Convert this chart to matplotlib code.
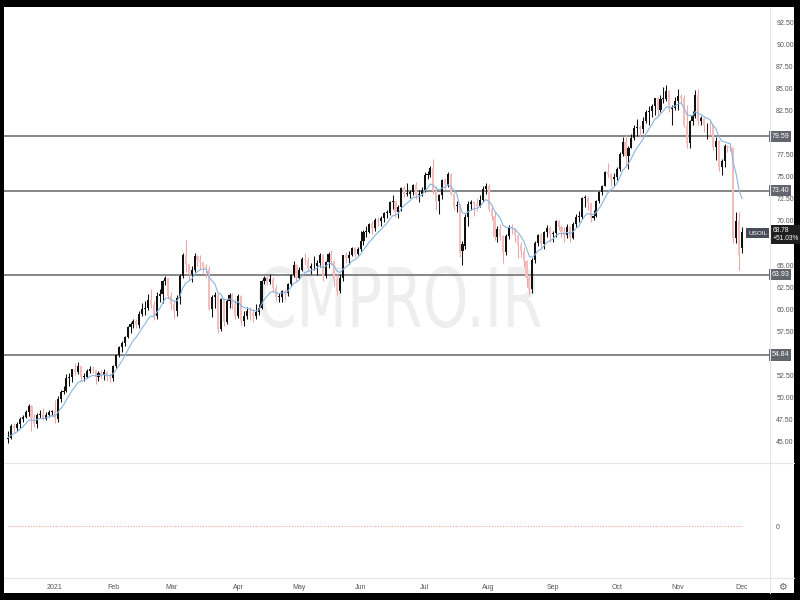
import numpy as np
import pandas as pd
import matplotlib
matplotlib.use("Agg")
import matplotlib.pyplot as plt
from matplotlib.lines import Line2D
from matplotlib.patches import Rectangle, PathPatch
from matplotlib.textpath import TextPath
from matplotlib.font_manager import FontProperties
from matplotlib.transforms import Affine2D

plt.rcParams["font.family"] = ["Liberation Sans Narrow", "Liberation Sans", "DejaVu Sans"]

# daily candles, 9 Dec 2020 -> 1 Dec 2021 (USOIL)
start_day = "2020-12-09"
end_day = "2021-12-01"
closed_days = ["2020-12-25", "2021-01-01", "2021-04-02"]

opens = [
    45.3, 45.5, 46.8, 46.6, 47.0, 47.6, 47.8, 48.4, 49.1, 47.7, 47.0, 48.1, 48.2, 47.6, 48.0, 48.4,
    48.5, 47.6, 49.9, 50.6, 50.8, 52.2, 52.3, 53.2, 52.9, 53.6, 52.4, 52.4, 53.0, 53.2, 53.1, 52.3, 52.8, 52.6, 52.9, 52.3,
    52.2, 53.6, 54.8, 55.7, 56.2, 56.9, 58.0, 58.4, 58.7, 58.2, 59.5, 60.0, 60.1, 61.1, 60.5, 59.2, 61.5, 61.7, 63.2, 63.5,
    61.5, 60.6, 59.8, 61.3, 63.8, 66.1, 65.1, 64.0, 64.4, 66.0, 65.6, 65.4, 64.8, 64.6, 60.0, 61.4, 61.6, 57.8, 61.2, 58.6, 61.0, 61.6, 60.6,
    59.2, 61.5, 58.7, 59.3, 59.8, 59.6, 59.3, 59.7, 60.2, 63.2, 63.5, 63.1, 63.4, 62.4, 61.4, 61.4, 62.1, 61.9, 62.9, 63.9, 65.0,
    63.6, 64.5, 65.7, 65.6, 64.7, 64.9, 64.9, 65.3, 66.1, 63.8, 65.4, 66.3, 65.5, 63.4, 62.1, 63.6, 66.1, 65.8, 66.2, 66.9, 66.3,
    66.8, 67.7, 68.8, 68.8, 69.6, 69.2, 70.1, 70.0, 70.3, 70.9, 70.9, 72.1, 72.2, 71.0, 71.6, 73.7, 73.1, 73.1, 73.3, 74.1, 72.9, 73.0,
    73.5, 75.2, 75.2, 76.0, 73.4, 72.2, 72.9, 74.6, 74.1, 75.3, 73.1, 71.7, 71.8, 66.6, 67.2, 70.5, 71.9, 72.1, 71.9, 71.7, 72.4, 73.6,
    74.0, 71.3, 70.6, 68.2, 69.1, 68.3, 66.5, 68.3, 69.3, 69.1, 68.4, 67.3, 66.6, 65.5, 63.5, 62.3, 65.6, 67.5, 68.4, 67.4, 68.7, 69.2,
    68.5, 68.6, 70.0, 69.3, 68.8, 68.4, 69.3, 68.1, 69.7, 70.5, 70.5, 72.6, 72.6, 72.0, 70.3, 70.6, 72.2, 73.3, 74.0, 75.5, 75.3, 74.8,
    75.0, 75.9, 77.6, 78.9, 77.4, 78.3, 79.4, 80.5, 80.6, 80.4, 81.3, 82.3, 82.4, 83.0, 83.9, 82.5, 83.8, 83.8, 84.7, 82.7, 82.8,
    83.6, 84.1, 83.9, 80.9, 78.8, 81.3, 81.9, 84.2, 81.3, 81.6, 80.8, 80.9, 80.8, 78.4, 79.0, 76.1, 76.8, 78.5, 78.4, 78.3, 68.1, 70.0,
    66.9,
]
highs = [
    46.2, 47.0, 47.1, 47.3, 47.8, 48.1, 48.6, 49.3, 49.2, 48.2, 48.3, 48.6, 48.9, 48.4, 48.6, 48.6,
    49.8, 50.2, 50.9, 51.3, 52.7, 52.8, 53.3, 53.9, 54.0, 53.6, 52.8, 53.2, 53.6, 53.6, 53.1, 53.0, 53.1, 53.2, 53.0, 52.8,
    53.7, 55.0, 55.9, 56.4, 57.0, 58.1, 58.6, 58.9, 58.9, 59.8, 60.7, 60.9, 61.7, 62.3, 60.9, 62.0, 62.3, 63.3, 63.8, 63.6,
    62.0, 60.9, 61.6, 64.0, 66.4, 67.9, 65.3, 64.9, 66.4, 66.2, 66.2, 65.4, 65.1, 64.9, 61.6, 62.0, 61.9, 61.3, 61.3, 61.2, 61.9, 61.8, 61.2,
    61.7, 61.6, 59.8, 60.3, 60.3, 60.0, 60.6, 60.6, 63.3, 63.8, 63.8, 64.0, 63.7, 62.7, 61.9, 62.2, 62.3, 63.0, 64.0, 65.5, 65.1,
    64.8, 65.9, 66.4, 65.9, 65.3, 66.0, 65.6, 66.4, 66.3, 65.5, 66.5, 66.7, 65.6, 64.0, 64.0, 66.2, 66.5, 66.6, 67.0, 67.1, 67.0,
    68.9, 69.0, 69.4, 69.8, 70.0, 70.3, 70.5, 70.6, 71.0, 71.2, 72.3, 72.9, 72.3, 71.8, 73.8, 73.9, 74.3, 73.5, 74.2, 74.4, 73.5, 73.8,
    75.5, 75.7, 76.2, 77.0, 73.9, 73.0, 74.7, 74.9, 75.5, 75.4, 73.3, 72.3, 71.9, 67.7, 70.8, 72.2, 72.4, 72.3, 72.6, 72.9, 73.9, 74.3,
    74.2, 71.7, 71.0, 69.4, 69.6, 68.4, 68.5, 69.5, 69.6, 69.2, 68.4, 67.6, 67.0, 65.6, 64.0, 65.8, 67.7, 68.5, 68.6, 68.9, 69.5, 69.4,
    68.9, 70.1, 70.1, 69.5, 69.3, 69.6, 69.4, 69.9, 70.8, 71.1, 72.7, 72.9, 72.8, 72.0, 71.2, 72.4, 73.4, 74.1, 75.6, 76.6, 75.4, 75.4,
    76.1, 77.8, 79.5, 79.8, 78.5, 79.8, 80.8, 81.5, 80.8, 81.8, 82.6, 83.0, 83.2, 83.9, 84.0, 84.3, 85.2, 85.4, 84.8, 83.1, 84.0,
    84.9, 84.4, 84.2, 83.1, 81.4, 82.4, 84.8, 84.9, 81.9, 81.8, 81.1, 81.4, 80.9, 79.5, 79.2, 77.0, 78.7, 78.6, 78.6, 78.4, 71.0, 71.0,
    69.3,
]
lows = [
    44.9, 45.3, 46.0, 46.3, 46.6, 47.3, 47.7, 47.9, 46.2, 46.7, 46.6, 47.7, 47.5, 47.5, 47.8, 47.9,
    47.2, 47.3, 49.5, 50.4, 50.6, 51.3, 51.8, 52.6, 52.7, 51.9, 51.9, 52.2, 52.8, 52.8, 51.6, 51.9, 52.2, 52.0, 51.9, 51.8,
    51.9, 53.4, 54.6, 55.2, 55.9, 56.8, 57.3, 57.9, 57.9, 57.9, 59.3, 59.4, 59.9, 60.2, 58.8, 58.9, 60.8, 60.7, 62.8, 61.2,
    60.0, 59.0, 59.2, 60.6, 63.6, 64.2, 63.3, 63.1, 64.2, 64.9, 64.6, 64.1, 63.7, 59.9, 59.1, 60.2, 57.3, 57.6, 58.1, 58.4, 60.2, 60.0, 58.9,
    59.0, 58.2, 58.1, 58.9, 58.8, 58.6, 58.9, 59.4, 60.0, 62.9, 62.7, 62.9, 62.0, 60.9, 60.8, 60.8, 61.1, 61.5, 62.6, 63.7, 63.2,
    63.4, 64.3, 65.0, 64.3, 64.0, 64.4, 63.9, 64.8, 63.2, 63.6, 64.7, 65.0, 62.6, 61.6, 61.9, 63.2, 65.2, 65.1, 66.0, 65.9, 66.1,
    66.6, 67.3, 68.2, 68.6, 68.5, 68.9, 69.4, 69.4, 69.9, 70.3, 70.7, 71.3, 70.5, 70.3, 71.1, 72.7, 72.8, 72.6, 72.9, 72.5, 72.1, 72.8,
    73.3, 74.7, 75.0, 73.1, 71.2, 70.8, 72.5, 73.6, 73.8, 72.9, 71.2, 71.0, 65.9, 65.0, 66.8, 69.4, 71.2, 70.6, 71.1, 71.6, 72.2, 73.0,
    71.1, 70.1, 67.9, 67.6, 67.8, 65.2, 66.2, 68.0, 68.5, 67.6, 65.8, 65.9, 64.8, 62.5, 61.7, 61.9, 65.3, 67.2, 66.9, 66.8, 68.2, 67.6,
    67.6, 68.2, 69.0, 68.2, 67.6, 68.1, 67.6, 68.0, 69.3, 69.9, 70.2, 71.6, 71.2, 69.9, 70.1, 70.4, 72.0, 72.9, 73.9, 75.0, 73.9, 73.9,
    74.6, 75.6, 77.3, 76.1, 75.9, 78.2, 79.2, 79.6, 79.5, 79.9, 81.1, 80.9, 81.8, 82.0, 81.9, 82.3, 83.3, 83.6, 82.3, 80.9, 82.5,
    82.6, 83.3, 80.6, 78.3, 78.3, 80.9, 81.6, 80.9, 80.8, 80.1, 79.3, 79.6, 78.0, 76.9, 75.6, 75.2, 76.1, 77.8, 77.9, 67.5, 67.5, 64.4,
    66.4,
]
closes = [
    45.5, 46.8, 46.6, 47.0, 47.6, 47.8, 48.4, 49.1, 47.7, 47.0, 48.1, 48.2, 47.6, 48.0, 48.4, 48.5,
    47.6, 49.9, 50.6, 50.8, 52.2, 52.3, 53.2, 52.9, 53.6, 52.4, 52.4, 53.0, 53.2, 53.1, 52.3, 52.8, 52.6, 52.9, 52.3, 52.2,
    53.6, 54.8, 55.7, 56.2, 56.9, 58.0, 58.4, 58.7, 58.2, 59.5, 60.0, 60.1, 61.1, 60.5, 59.2, 61.5, 61.7, 63.2, 63.5, 61.5,
    60.6, 59.8, 61.3, 63.8, 66.1, 65.1, 64.0, 64.4, 66.0, 65.6, 65.4, 64.8, 64.6, 60.0, 61.4, 61.6, 57.8, 61.2, 58.6, 61.0, 61.6, 60.6, 59.2,
    61.5, 58.7, 59.3, 59.8, 59.6, 59.3, 59.7, 60.2, 63.2, 63.5, 63.1, 63.4, 62.4, 61.4, 61.4, 62.1, 61.9, 62.9, 63.9, 65.0, 63.6,
    64.5, 65.7, 65.6, 64.7, 64.9, 64.9, 65.3, 66.1, 63.8, 65.4, 66.3, 65.5, 63.4, 62.1, 63.6, 66.1, 65.8, 66.2, 66.9, 66.3, 66.8,
    67.7, 68.8, 68.8, 69.6, 69.2, 70.1, 70.0, 70.3, 70.9, 70.9, 72.1, 72.2, 71.0, 71.6, 73.7, 73.1, 73.1, 73.3, 74.1, 72.9, 73.0, 73.5,
    75.2, 75.2, 76.0, 73.4, 72.2, 72.9, 74.6, 74.1, 75.3, 73.1, 71.7, 71.8, 66.4, 67.4, 70.5, 71.9, 72.1, 71.9, 71.7, 72.4, 73.6, 74.0,
    71.3, 70.6, 68.2, 69.1, 68.3, 66.5, 68.3, 69.3, 69.1, 68.4, 67.3, 66.6, 65.5, 63.5, 62.3, 65.6, 67.5, 68.4, 67.4, 68.7, 69.2, 68.5,
    68.6, 70.0, 69.3, 68.8, 68.4, 69.3, 68.1, 69.7, 70.5, 70.5, 72.6, 72.6, 72.0, 70.3, 70.6, 72.2, 73.3, 74.0, 75.5, 75.3, 74.8, 75.0,
    75.9, 77.6, 78.9, 77.4, 78.3, 79.4, 80.5, 80.6, 80.4, 81.3, 82.3, 82.4, 83.0, 83.9, 82.5, 83.8, 83.8, 84.7, 82.7, 82.8, 83.6,
    84.1, 83.9, 80.9, 78.8, 81.3, 81.9, 84.2, 81.3, 81.6, 80.8, 80.9, 80.8, 78.4, 79.0, 76.1, 76.8, 78.5, 78.4, 78.3, 68.1, 70.0, 66.2,
    68.78,
]

levels = [79.59, 73.40, 63.93, 54.84]
price_ticks = [45, 47.5, 50, 52.5, 57.5, 60, 62.5, 65, 70, 72.5, 75, 77.5, 82.5, 85, 87.5, 90, 92.5]
symbol = "USOIL"
change_text = "+51.03%"
watermark = "CMPRO.IR"

dates = pd.bdate_range(start_day, end_day).drop(pd.to_datetime(closed_days))
o = np.array(opens)
h = np.array(highs)
l = np.array(lows)
c = np.array(closes)
n = len(c)
x = np.arange(n)
ema = pd.Series(c).ewm(span=9, adjust=False).mean()

W, H = 800, 600
def fx(px):
    return px / W
def fy(py):
    return 1 - py / H

fig = plt.figure(figsize=(8, 6), dpi=100, facecolor="black")
fig.add_artist(Rectangle((fx(4), fy(593)), fx(790), (593 - 7) / H, transform=fig.transFigure,
                         facecolor="white", edgecolor="none", zorder=-3))

# watermark, squeezed text path
tp = TextPath((0, 0), watermark, size=1, prop=FontProperties(family="DejaVu Sans"))
bb = tp.get_extents()
wm_tr = (Affine2D().translate(-bb.x0 - bb.width / 2, -bb.y0 - bb.height / 2)
         .scale(282 / bb.width, 62 / bb.height).translate(400, H - 297)
         .scale(1 / W, 1 / H) + fig.transFigure)
fig.add_artist(PathPatch(tp, transform=wm_tr, facecolor="#eeeeee", edgecolor="none", zorder=-2))

ax = fig.add_axes([fx(4), fy(463), 766 / W, 456 / H])
ax2 = fig.add_axes([fx(4), fy(578), 766 / W, 115 / H], sharex=ax)
for a in (ax, ax2):
    a.set_facecolor("none")
    for s in a.spines.values():
        s.set_visible(False)

# candles
up = c >= o
body_lo = np.minimum(o, c)
body_h = np.maximum(np.abs(c - o), 0.06)
up_col, dn_col, dn_wick = "#111111", "#f5bcbc", "#eea5a5"
ax.vlines(x[up], l[up], h[up], color=up_col, lw=0.75, zorder=3)
ax.vlines(x[~up], l[~up], h[~up], color=dn_wick, lw=0.75, zorder=3)
ax.bar(x[up], body_h[up], bottom=body_lo[up], width=0.72, color=up_col, zorder=4)
ax.bar(x[~up], body_h[~up], bottom=body_lo[~up], width=0.72, color=dn_col, zorder=4)
ax.plot(x, ema, color="#86b6e2", lw=0.8, zorder=5)

label_kw = dict(fontsize=5, color="white", clip_on=False, zorder=6)
for lv in levels:
    ax.axhline(lv, color="#7d7d7d", lw=1.3, zorder=2)
    ax.text(1.002, lv, f"{lv:.2f}", transform=ax.get_yaxis_transform(), ha="left", va="center",
            bbox=dict(boxstyle="square,pad=0.3", fc="#62656e", ec="none"), **label_kw)

x_left = (4 - 8.2) / 2.912
x_right = (770 - 8.2) / 2.912
ax.set_xlim(x_left, x_right)
ax.set_ylim(45 - 21 / 8.842, 92.5 + 15 / 8.842)
ax.yaxis.tick_right()
ax.set_yticks(price_ticks)
ax.set_yticklabels([f"{v:.2f}" for v in price_ticks])
ax.tick_params(axis="y", length=0, pad=4.5, labelsize=5, labelcolor="#555555")
ax.tick_params(axis="x", bottom=False, labelbottom=False)

# last price tags
ax.annotate(f"{c[-1]:.2f}\n{change_text}", xy=(1, c[-1]), xycoords=ax.get_yaxis_transform(),
            xytext=(2, 3.5), textcoords="offset points", ha="left", va="top", fontsize=4.8,
            color="white", linespacing=1.2, annotation_clip=False, zorder=7,
            bbox=dict(boxstyle="square,pad=0.3", fc="#1e1e1e", ec="none"))
ax.annotate(symbol, xy=(1, c[-1]), xycoords=ax.get_yaxis_transform(),
            xytext=(-2, -1), textcoords="offset points", ha="right", va="center", fontsize=4.6,
            color="white", annotation_clip=False, zorder=7,
            bbox=dict(boxstyle="square,pad=0.35", fc="#4a4d57", ec="none"))

# lower pane
ax2.plot([x[0], x[-1]], [0, 0], color="#f2a49a", lw=0.8, ls=(0, (1, 1.5)))
ax2.set_ylim(-0.452, 0.548)
ax2.yaxis.tick_right()
ax2.set_yticks([0])
ax2.set_yticklabels(["0"])
ax2.tick_params(axis="y", length=0, pad=4.5, labelsize=5, labelcolor="#555555")

month_pos = [i for i in range(1, n) if dates[i].month != dates[i - 1].month]
month_lab = [str(dates[i].year) if dates[i].month == 1 else dates[i].strftime("%b") for i in month_pos]
ax2.set_xticks(month_pos)
ax2.set_xticklabels(month_lab)
ax2.tick_params(axis="x", length=0, pad=4.5, labelsize=5, labelcolor="#555555")

# pane separators
sep = "#e3e5ea"
fig.add_artist(Line2D([fx(770), fx(770)], [fy(7), fy(593)], transform=fig.transFigure, color=sep, lw=0.8))
fig.add_artist(Line2D([fx(4), fx(794)], [fy(463), fy(463)], transform=fig.transFigure, color=sep, lw=0.8))
fig.add_artist(Line2D([fx(4), fx(794)], [fy(578), fy(578)], transform=fig.transFigure, color=sep, lw=0.8))
fig.text(fx(782), fy(587), "\u2699", fontsize=7, color="#606060", ha="center", va="center",
         family="DejaVu Sans")

fig.savefig("out.png", dpi=100, facecolor="black")
